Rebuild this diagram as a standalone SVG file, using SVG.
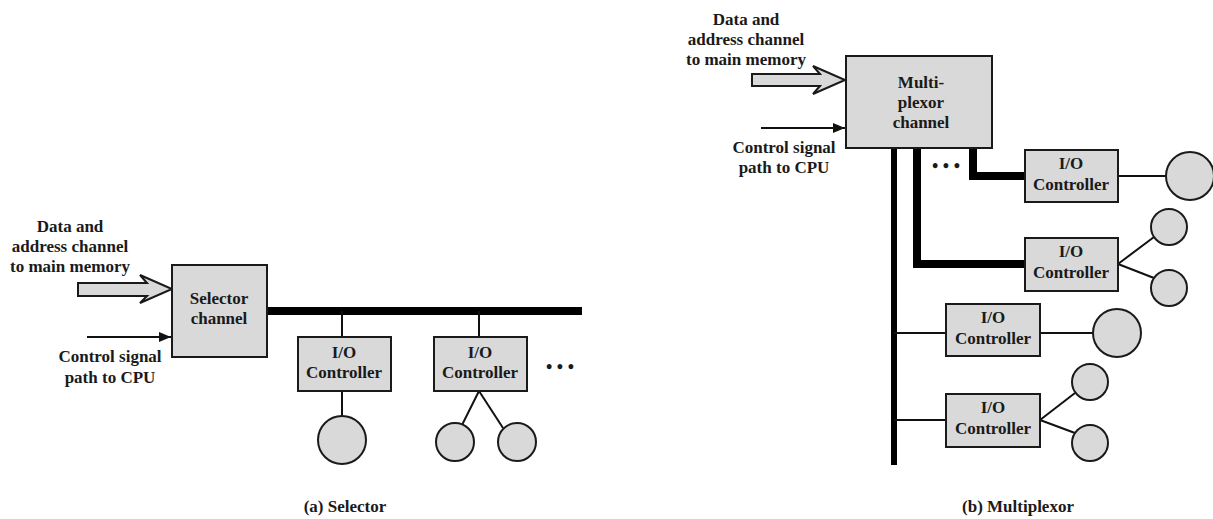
<svg xmlns="http://www.w3.org/2000/svg" width="1213" height="519" viewBox="0 0 1213 519">
  <style>
    .box { fill: #d9d9d9; stroke: #1a1a1a; stroke-width: 2; }
    .dev { fill: #d9d9d9; stroke: #1a1a1a; stroke-width: 2; }
    .wire { stroke: #111; stroke-width: 2; fill: none; }
    .bus { stroke: #000; fill: none; stroke-linejoin: miter; stroke-linecap: butt; }
    .hollow { fill: #d9d9d9; stroke: #1a1a1a; stroke-width: 2; stroke-linejoin: miter; }
    text { font-family: "Liberation Serif", "Times New Roman", serif; font-weight: bold; font-size: 17px; fill: #1a1a1a; text-anchor: middle; }
    .dots { font-size: 18px; }
  </style>
  <defs>
    <marker id="arrow" viewBox="0 0 12 10" refX="12" refY="5" markerWidth="12" markerHeight="10" markerUnits="userSpaceOnUse" orient="auto">
      <path d="M0,0 L12,5 L0,10 Z" fill="#111"/>
    </marker>
  </defs>

  <rect width="1213" height="519" fill="#ffffff"/>

  <!-- (a) Selector channel configuration -->
  <g id="connectors-a">
    <polygon class="hollow" points="78,283 147,283 140,275 172,289 140,303 147,296 78,296"/>
    <line class="wire" x1="87" y1="337" x2="171" y2="337" marker-end="url(#arrow)"/>
    <line class="bus" x1="267" y1="311" x2="582" y2="311" stroke-width="8"/>
    <line class="wire" x1="342" y1="311" x2="342" y2="337"/>
    <line class="wire" x1="479" y1="311" x2="479" y2="337"/>
    <line class="wire" x1="342" y1="391" x2="342" y2="416"/>
    <line class="wire" x1="479" y1="391" x2="462" y2="425"/>
    <line class="wire" x1="479" y1="391" x2="503" y2="428"/>
  </g>

  <g id="label-data-a">
    <text x="70" y="232">Data and</text>
    <text x="70" y="252">address channel</text>
    <text x="70" y="272">to main memory</text>
  </g>
  <g id="label-control-a">
    <text x="110" y="362">Control signal</text>
    <text x="110" y="383">path to CPU</text>
  </g>

  <g id="selector-channel">
    <rect class="box" x="172" y="265" width="95" height="92"/>
    <text x="219" y="304">Selector</text>
    <text x="219" y="324">channel</text>
  </g>

  <g id="io-a1">
    <rect class="box" x="298" y="337" width="93" height="54"/>
    <text x="344" y="358">I/O</text>
    <text x="344" y="378">Controller</text>
  </g>
  <g id="io-a2">
    <rect class="box" x="434" y="337" width="93" height="54"/>
    <text x="480" y="358">I/O</text>
    <text x="480" y="378">Controller</text>
  </g>
  <g id="dev-a1"><circle class="dev" cx="342" cy="440" r="24"/></g>
  <g id="dev-a2"><circle class="dev" cx="455" cy="442" r="19"/></g>
  <g id="dev-a3"><circle class="dev" cx="517" cy="442" r="19"/></g>
  <text class="dots" x="560" y="373">• • •</text>

  <text x="345" y="512">(a) Selector</text>

  <!-- (b) Multiplexor channel configuration -->
  <g id="connectors-b">
    <polygon class="hollow" points="752,74 820,74 813,66 845,80 813,94 820,86 752,86"/>
    <line class="wire" x1="761" y1="128" x2="845" y2="128" marker-end="url(#arrow)"/>
    <line class="bus" x1="894" y1="148" x2="894" y2="465" stroke-width="6"/>
    <polyline class="bus" points="917,148 917,264 1025,264" stroke-width="8"/>
    <polyline class="bus" points="973,148 973,176 1025,176" stroke-width="8"/>
    <line class="wire" x1="1118" y1="176" x2="1166" y2="176"/>
    <line class="wire" x1="1118" y1="264" x2="1154" y2="237"/>
    <line class="wire" x1="1118" y1="264" x2="1154" y2="278"/>
    <line class="wire" x1="894" y1="333" x2="946" y2="333"/>
    <line class="wire" x1="1040" y1="333" x2="1093" y2="333"/>
    <line class="wire" x1="894" y1="420" x2="946" y2="420"/>
    <line class="wire" x1="1040" y1="420" x2="1075" y2="393"/>
    <line class="wire" x1="1040" y1="420" x2="1075" y2="433"/>
  </g>

  <g id="label-data-b">
    <text x="746" y="25">Data and</text>
    <text x="746" y="45">address channel</text>
    <text x="746" y="65">to main memory</text>
  </g>
  <g id="label-control-b">
    <text x="784" y="153">Control signal</text>
    <text x="784" y="173">path to CPU</text>
  </g>

  <g id="multiplexor-channel">
    <rect class="box" x="846" y="56" width="146" height="92"/>
    <text x="921" y="88">Multi-</text>
    <text x="921" y="108">plexor</text>
    <text x="921" y="128">channel</text>
  </g>
  <text class="dots" x="946" y="172">• • •</text>

  <g id="io-b1">
    <rect class="box" x="1025" y="150" width="93" height="52"/>
    <text x="1071" y="169">I/O</text>
    <text x="1071" y="190">Controller</text>
  </g>
  <g id="io-b2">
    <rect class="box" x="1025" y="238" width="93" height="53"/>
    <text x="1071" y="257">I/O</text>
    <text x="1071" y="278">Controller</text>
  </g>
  <g id="io-b3">
    <rect class="box" x="946" y="304" width="94" height="52"/>
    <text x="993" y="323">I/O</text>
    <text x="993" y="344">Controller</text>
  </g>
  <g id="io-b4">
    <rect class="box" x="946" y="394" width="94" height="53"/>
    <text x="993" y="413">I/O</text>
    <text x="993" y="434">Controller</text>
  </g>
  <g id="dev-b1"><circle class="dev" cx="1190" cy="176" r="24"/></g>
  <g id="dev-b2"><circle class="dev" cx="1169" cy="227" r="18"/></g>
  <g id="dev-b3"><circle class="dev" cx="1169" cy="288" r="18"/></g>
  <g id="dev-b4"><circle class="dev" cx="1117" cy="333" r="24"/></g>
  <g id="dev-b5"><circle class="dev" cx="1090" cy="382" r="18"/></g>
  <g id="dev-b6"><circle class="dev" cx="1090" cy="443" r="18"/></g>

  <text x="1018" y="512">(b) Multiplexor</text>
</svg>
